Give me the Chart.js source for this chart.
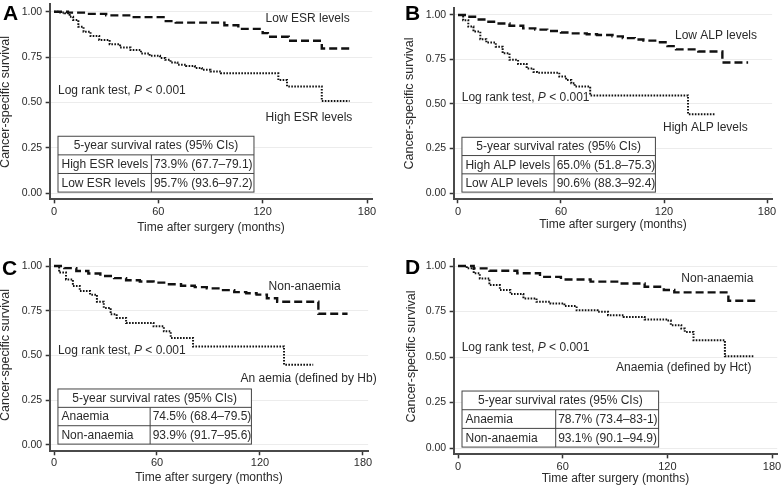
<!DOCTYPE html>
<html>
<head>
<meta charset="utf-8">
<script src="https://cdn.jsdelivr.net/npm/chart.js@4.4.1/dist/chart.umd.min.js"></script>
<style>
  html, body { margin: 0; padding: 0; background: #fff; }
  #wrap { position: relative; width: 781px; height: 486px; overflow: hidden; }
  canvas { position: absolute; }
</style>
</head>
<body>
<div id="wrap">
  <canvas id="panelA" width="390" height="243" style="left:0px;top:0px"></canvas>
  <canvas id="panelB" width="377" height="243" style="left:404px;top:0px"></canvas>
  <canvas id="panelC" width="390" height="243" style="left:0px;top:243px"></canvas>
  <canvas id="panelD" width="377" height="243" style="left:404px;top:243px"></canvas>
</div>
<script>
// Tick values shared by every panel.
const X_TICKS = [0, 60, 120, 180];
const Y_TICKS = [0, 0.25, 0.5, 0.75, 1];

// Panel A: ESR
const esrLowT  = [0, 8, 18, 30, 45, 63, 70, 98, 106, 120, 123, 135, 154, 171];
const esrLowS  = [1.0, 0.995, 0.988, 0.98, 0.97, 0.948, 0.94, 0.925, 0.905, 0.882, 0.862, 0.84, 0.797, 0.797];
const esrHighT = [0, 3, 6, 9, 11, 14, 17, 21, 26, 32, 38, 44, 50, 55, 61, 64, 67, 71, 76, 81, 85, 90, 96, 129, 134, 154, 170];
const esrHighS = [1.0, 0.996, 0.991, 0.972, 0.954, 0.917, 0.89, 0.866, 0.844, 0.82, 0.802, 0.789, 0.77, 0.757, 0.745, 0.735, 0.72, 0.708, 0.70, 0.69, 0.68, 0.67, 0.66, 0.623, 0.588, 0.508, 0.508];

// Panel B: ALP
const alpLowT  = [0, 5, 11, 17, 22, 30, 38, 45, 52, 60, 65, 75, 81, 90, 96, 103, 108, 116, 122, 127, 140, 154, 169];
const alpLowS  = [1.0, 0.99, 0.975, 0.962, 0.952, 0.94, 0.925, 0.918, 0.91, 0.902, 0.897, 0.892, 0.888, 0.88, 0.87, 0.862, 0.856, 0.847, 0.825, 0.807, 0.795, 0.733, 0.733];
const alpHighT = [0, 3, 6, 9, 13, 16.5, 22, 26, 30, 35, 40, 44, 46, 59, 63, 66, 68, 77, 134, 150];
const alpHighS = [1.0, 0.97, 0.935, 0.907, 0.864, 0.845, 0.822, 0.785, 0.748, 0.725, 0.70, 0.68, 0.676, 0.654, 0.635, 0.617, 0.598, 0.548, 0.443, 0.443];

// Panel C: anaemia defined by Hb
const hbNonT = [0, 6, 13, 20, 27, 35, 42, 50, 58, 66, 74, 82, 89, 97, 105, 112, 118, 124, 130, 154, 171];
const hbNonS = [1.0, 0.988, 0.972, 0.958, 0.944, 0.932, 0.92, 0.913, 0.907, 0.898, 0.89, 0.882, 0.875, 0.865, 0.854, 0.848, 0.84, 0.82, 0.80, 0.733, 0.733];
const hbAnT  = [0, 3, 7, 11, 15, 21, 25, 29, 33, 36.5, 42, 58, 64, 68, 81, 134, 151];
const hbAnS  = [1.0, 0.963, 0.925, 0.888, 0.86, 0.84, 0.80, 0.766, 0.73, 0.71, 0.682, 0.663, 0.635, 0.598, 0.55, 0.449, 0.449];

// Panel D: anaemia defined by Hct
const hctNonT = [0, 9, 18, 34, 47, 59, 76, 93, 107, 118, 124, 155, 171];
const hctNonS = [1.0, 0.987, 0.974, 0.96, 0.94, 0.926, 0.914, 0.904, 0.886, 0.868, 0.855, 0.809, 0.809];
const hctAnT  = [0, 5, 9, 12.5, 18, 24, 30, 37.5, 45, 53, 61, 68, 80, 86, 95, 107, 120, 122, 128, 130, 135, 153, 170];
const hctAnS  = [1.0, 0.987, 0.96, 0.932, 0.895, 0.868, 0.846, 0.822, 0.803, 0.794, 0.78, 0.757, 0.748, 0.73, 0.72, 0.706, 0.70, 0.675, 0.656, 0.638, 0.592, 0.504, 0.504];

// Table rows: [label, 5-year rate (95% CI)]
const esrRows = [["High ESR levels", "73.9% (67.7\u201379.1)"], ["Low ESR levels", "95.7% (93.6\u201397.2)"]];
const alpRows = [["High ALP levels", "65.0% (51.8\u201375.3)"], ["Low ALP levels", "90.6% (88.3\u201392.4)"]];
const hbRows  = [["Anaemia", "74.5% (68.4\u201379.5)"], ["Non-anaemia", "93.9% (91.7\u201395.6)"]];
const hctRows = [["Anaemia", "78.7% (73.4\u201383-1)"], ["Non-anaemia", "93.1% (90.1\u201394.9)"]];

const FONT = '"Liberation Sans", Arial, Helvetica, sans-serif';
const INK = "#111";
const TEXT = "#2a2a2a";
const X_MIN = -2.5, X_MAX = 183, Y_MIN = -0.035, Y_MAX = 1.04;

function km(times, surv) {
  return times.map((t, i) => ({ x: t, y: surv[i] }));
}

// Page-pixel placement of each panel (canvas box and where 0/180 and 0/1 fall).
const PANELS = [
  {
    id: "panelA", letter: "A", box: { x: 0, y: 0, w: 390, h: 243 },
    axis: { x0: 54, x180: 367, y1: 11.7, y0: 193 },
    xTitlePad: 8, xTickPad: 2, yTitlePad: -1.5, letterPos: [3, 20],
    low: km(esrLowT, esrLowS), high: km(esrHighT, esrHighS), rows: esrRows,
    lowText: ["Low ESR levels", 121.7, 0.96], highText: ["High ESR levels", 121.7, 0.416], logText: [2.3, 0.563],
  },
  {
    id: "panelB", letter: "B", box: { x: 404, y: 0, w: 377, h: 243 },
    axis: { x0: 458, x180: 767, y1: 15, y0: 193 },
    xTitlePad: 11.5, xTickPad: 2, yTitlePad: -1.5, letterPos: [1, 20],
    low: km(alpLowT, alpLowS), high: km(alpHighT, alpHighS), rows: alpRows,
    lowText: ["Low ALP levels", 126.4, 0.882], highText: ["High ALP levels", 119.4, 0.368], logText: [2.2, 0.537],
  },
  {
    id: "panelC", letter: "C", box: { x: 0, y: 243, w: 390, h: 243 },
    axis: { x0: 54, x180: 363, y1: 266, y0: 445 },
    xTitlePad: 1.5, xTickPad: 1.5, yTitlePad: -1.5, letterPos: [2, 32],
    low: km(hbNonT, hbNonS), high: km(hbAnT, hbAnS), rows: hbRows,
    lowText: ["Non-anaemia", 125, 0.883], highText: ["An aemia (defined by Hb)", 108.7, 0.369], logText: [2.3, 0.528],
  },
  {
    id: "panelD", letter: "D", box: { x: 404, y: 243, w: 377, h: 243 },
    axis: { x0: 458, x180: 772, y1: 266, y0: 448 },
    xTitlePad: -0.3, xTickPad: 1.5, yTitlePad: 0.5, letterPos: [1, 31],
    low: km(hctNonT, hctNonS), high: km(hctAnT, hctAnS), rows: hctRows,
    lowText: ["Non-anaemia", 128, 0.928], highText: ["Anaemia (defined by Hct)", 90.6, 0.442], logText: [2.1, 0.552],
  },
];

// Table placement in data units (months, survival), same in each panel.
const TABLE = { left: 2.3, divider: 56, right: 115, top: 0.313, bottom: 0.005 };

const overlay = {
  id: "overlay",
  afterDraw(chart) {
    const p = chart.options.plugins.overlay.panel;
    const { ctx } = chart;
    const xs = chart.scales.x, ys = chart.scales.y;
    ctx.save();
    ctx.fillStyle = TEXT;
    ctx.textBaseline = "middle";
    ctx.textAlign = "left";
    ctx.font = `12px ${FONT}`;

    // curve labels
    [p.lowText, p.highText].forEach(([txt, mx, sy]) => {
      ctx.fillText(txt, xs.getPixelForValue(mx), ys.getPixelForValue(sy));
    });

    // log rank text with italic P
    let lx = xs.getPixelForValue(p.logText[0]);
    const ly = ys.getPixelForValue(p.logText[1]);
    const part1 = "Log rank test, ";
    ctx.fillText(part1, lx, ly);
    lx += ctx.measureText(part1).width;
    ctx.font = `italic 12px ${FONT}`;
    ctx.fillText("P", lx, ly);
    lx += ctx.measureText("P").width;
    ctx.font = `12px ${FONT}`;
    ctx.fillText(" < 0.001", lx, ly);

    // survival table
    const tl = xs.getPixelForValue(TABLE.left), tr = xs.getPixelForValue(TABLE.right);
    const td = xs.getPixelForValue(TABLE.divider);
    const tt = ys.getPixelForValue(TABLE.top), tb = ys.getPixelForValue(TABLE.bottom);
    const rh = (tb - tt) / 3;
    ctx.fillStyle = "#fff";
    ctx.fillRect(tl, tt, tr - tl, tb - tt);
    ctx.strokeStyle = "#444";
    ctx.lineWidth = 1;
    ctx.strokeRect(tl, tt, tr - tl, tb - tt);
    ctx.beginPath();
    ctx.moveTo(tl, tt + rh); ctx.lineTo(tr, tt + rh);
    ctx.moveTo(tl, tt + 2 * rh); ctx.lineTo(tr, tt + 2 * rh);
    ctx.moveTo(td, tt + rh); ctx.lineTo(td, tb);
    ctx.stroke();
    ctx.fillStyle = TEXT;
    ctx.textAlign = "center";
    ctx.fillText("5-year survival rates (95% CIs)", (tl + tr) / 2, tt + rh / 2 + 0.5);
    ctx.textAlign = "left";
    p.rows.forEach(([label, value], i) => {
      const cy = tt + rh * (i + 1.5) + 0.5;
      ctx.fillText(label, tl + 3.5, cy);
      ctx.fillText(value, td + 2.5, cy);
    });

    // panel letter
    ctx.fillStyle = "#000";
    ctx.textBaseline = "alphabetic";
    ctx.font = `bold 21px ${FONT}`;
    ctx.fillText(p.letter, p.letterPos[0], p.letterPos[1]);
    ctx.restore();
  },
};

function renderPanel(p) {
  const { box, axis } = p;
  const pxPerMonth = (axis.x180 - axis.x0) / 180;
  const pxPerUnit = axis.y0 - axis.y1;
  const L = axis.x0 + X_MIN * pxPerMonth;
  const R = axis.x0 + X_MAX * pxPerMonth;
  const T = axis.y0 - Y_MAX * pxPerUnit;
  const B = axis.y0 - Y_MIN * pxPerUnit;

  return new Chart(document.getElementById(p.id), {
    type: "line",
    data: {
      datasets: [
        {
          label: "low",
          data: p.low,
          borderColor: INK,
          borderWidth: 2.4,
          borderDash: [8, 4],
          stepped: "before",
          pointRadius: 0,
          fill: false,
        },
        {
          label: "high",
          data: p.high,
          borderColor: INK,
          borderWidth: 2,
          borderDash: [1.6, 1.4],
          stepped: "before",
          pointRadius: 0,
          fill: false,
        },
      ],
    },
    options: {
      responsive: false,
      animation: false,
      devicePixelRatio: 1,
      layout: { padding: { left: 0, top: T - box.y, right: box.x + box.w - R, bottom: 0 } },
      plugins: {
        legend: { display: false },
        tooltip: { enabled: false },
        overlay: { panel: p },
      },
      scales: {
        x: {
          type: "linear",
          min: X_MIN,
          max: X_MAX,
          afterBuildTicks: (s) => { s.ticks = X_TICKS.map((v) => ({ value: v })); },
          afterFit: (s) => { s.height = box.y + box.h - B; s.paddingLeft = 0; s.paddingRight = 0; },
          border: { display: true, color: "#4a4a4a", width: 2 },
          grid: { drawOnChartArea: false, drawTicks: true, tickLength: 4, tickColor: "#333", tickWidth: 1.5 },
          ticks: { color: TEXT, font: { family: FONT, size: 11 }, padding: p.xTickPad, maxRotation: 0, autoSkip: false },
          title: {
            display: true,
            text: "Time after surgery (months)",
            color: TEXT,
            font: { family: FONT, size: 12 },
            padding: { top: 0, bottom: p.xTitlePad },
          },
        },
        y: {
          min: Y_MIN,
          max: Y_MAX,
          afterBuildTicks: (s) => { s.ticks = Y_TICKS.map((v) => ({ value: v })); },
          afterFit: (s) => { s.width = L - box.x; s.paddingTop = 0; s.paddingBottom = 0; },
          border: { display: true, color: "#4a4a4a", width: 2 },
          grid: { color: "#ececec", lineWidth: 1, drawTicks: true, tickLength: 4, tickColor: "#333", tickWidth: 1.5 },
          ticks: { color: TEXT, font: { family: FONT, size: 10.5 }, padding: 3.5, callback: (v) => Number(v).toFixed(2) },
          title: {
            display: true,
            text: "Cancer-specific survival",
            color: TEXT,
            font: { family: FONT, size: 12.5 },
            padding: { top: p.yTitlePad, bottom: 0 },
          },
        },
      },
    },
    plugins: [overlay],
  });
}

PANELS.forEach(renderPanel);
</script>
</body>
</html>
